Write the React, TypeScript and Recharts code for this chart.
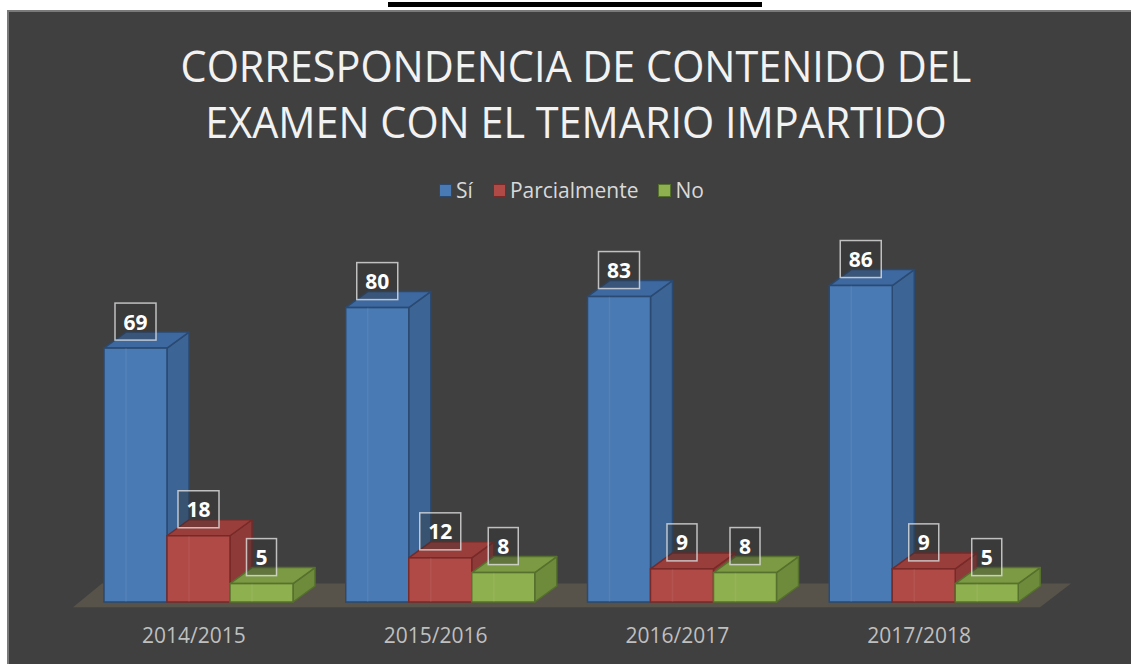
import React from "react";
import { BarChart, Bar, XAxis, YAxis, Legend, LabelList, ReferenceArea } from "recharts";

const years = ["2014/2015", "2015/2016", "2016/2017", "2017/2018"];
const siValues = [69, 80, 83, 86];
const parcialValues = [18, 12, 9, 9];
const noValues = [5, 8, 8, 5];

const data = years.map((year, i) => ({
  year,
  si: siValues[i],
  parcial: parcialValues[i],
  no: noValues[i],
}));

type Palette = { front: string; side: string; top: string; edge: string };

const series: { key: string; name: string; colors: Palette }[] = [
  { key: "si", name: "Sí", colors: { front: "#4a7ab4", side: "#3c6494", top: "#3e69a0", edge: "#2a4a72" } },
  { key: "parcial", name: "Parcialmente", colors: { front: "#b04a47", side: "#8e3a38", top: "#9a3e3b", edge: "#772a28" } },
  { key: "no", name: "No", colors: { front: "#8fb04f", side: "#6e8b3b", top: "#7c9a44", edge: "#56702d" } },
];

// fake 3d: depth offset and a small perspective shift of the front faces
const DX = 22;
const DY = -16;
const SHIFT = 5;

const makeBox = (c: Palette) => (props: any) => {
  const { height } = props;
  const x = props.x + SHIFT;
  const y = props.y;
  const w = props.width;
  if (!height || height <= 0) return null;
  const b = y + height;
  return (
    <g>
      <polygon
        points={`${x + w},${y} ${x + w + DX},${y + DY} ${x + w + DX},${b + DY} ${x + w},${b}`}
        fill={c.side}
        stroke={c.edge}
        strokeWidth={1.5}
        strokeLinejoin="round"
      />
      <polygon
        points={`${x},${y} ${x + DX},${y + DY} ${x + w + DX},${y + DY} ${x + w},${y}`}
        fill={c.top}
        stroke={c.edge}
        strokeWidth={1.5}
        strokeLinejoin="round"
      />
      <rect x={x} y={y} width={w} height={height} fill={c.front} stroke={c.edge} strokeWidth={1.5} />
      <line x1={x + DX} y1={y} x2={x + DX} y2={b} stroke="#ffffff" strokeOpacity={0.06} strokeWidth={1.5} />
    </g>
  );
};

const Floor = (props: any) => {
  const { x, y, width, height } = props;
  return (
    <polygon
      points={`${x},${y + height} ${x + width},${y + height} ${x + width + 31},${y} ${x + 29},${y}`}
      fill="#57534a"
    />
  );
};

const ValueBox = (props: any) => {
  const { x, y, width, value } = props;
  const txt = String(value);
  const bw = txt.length > 1 ? 41 : 30;
  const bh = 37;
  const cx = x + width / 2 + SHIFT;
  const bottom = y - 8;
  return (
    <g>
      <rect
        x={cx - bw / 2}
        y={bottom - bh}
        width={bw}
        height={bh}
        fill="rgba(50,50,50,0.35)"
        stroke="rgba(225,225,225,0.8)"
        strokeWidth={1.5}
      />
      <text
        x={cx}
        y={bottom - bh / 2}
        textAnchor="middle"
        dominantBaseline="central"
        fill="#ffffff"
        fontSize={21}
        fontWeight={700}
        fontFamily="'Open Sans', sans-serif"
      >
        {txt}
      </text>
    </g>
  );
};

const LegendContent = () => (
  <div style={{ display: "flex", justifyContent: "center", alignItems: "center", gap: 20 }}>
    {series.map((s) => (
      <div key={s.key} style={{ display: "flex", alignItems: "center", gap: 4 }}>
        <span
          style={{
            width: 11,
            height: 11,
            background: s.colors.front,
            border: `1.5px solid ${s.colors.edge}`,
            display: "inline-block",
          }}
        />
        <span style={{ color: "#d9d9d9", fontSize: 21, fontFamily: "'Open Sans', sans-serif" }}>{s.name}</span>
      </div>
    ))}
  </div>
);

export default function App() {
  return (
    <div
      style={{
        position: "absolute",
        left: 0,
        top: 0,
        width: 1131,
        height: 664,
        background: "#ffffff",
        overflow: "hidden",
        fontFamily: "'Open Sans', sans-serif",
      }}
    >
      <div style={{ position: "absolute", left: 388, top: 2, width: 374, height: 5, background: "#000" }} />
      <div
        style={{
          position: "absolute",
          left: 7,
          top: 10,
          right: 0,
          bottom: 0,
          background: "#404040",
          borderLeft: "2px solid #7a7a7a",
          borderTop: "2px solid #7a7a7a",
        }}
      />
      <div
        style={{
          position: "absolute",
          left: 0,
          top: 37,
          width: 1152,
          textAlign: "center",
          color: "#f2f2f2",
          fontSize: 44,
          lineHeight: "56px",
          transform: "scaleX(0.94)",
          transformOrigin: "576px 0",
        }}
      >
        CORRESPONDENCIA DE CONTENIDO DEL
        <br />
        EXAMEN CON EL TEMARIO IMPARTIDO
      </div>
      <div style={{ position: "absolute", left: 0, top: 0 }}>
        <BarChart
          width={1131}
          height={664}
          data={data}
          barGap={0}
          barSize={63}
          margin={{ top: 234, right: 91, bottom: 22, left: 73 }}
        >
          <XAxis
            dataKey="year"
            axisLine={false}
            tickLine={false}
            height={40}
            tickMargin={20}
            tick={{ fill: "#bfbfbf", fontSize: 21, fontFamily: "'Open Sans', sans-serif" }}
          />
          <YAxis hide domain={[0, 100]} />
          <ReferenceArea y1={-1.4} y2={5} ifOverflow="visible" shape={<Floor />} />
          <Legend
            verticalAlign="middle"
            align="center"
            content={<LegendContent />}
            wrapperStyle={{ top: 176, left: 6, width: 1131 }}
          />
          {series.map((s) => (
            <Bar
              key={s.key}
              dataKey={s.key}
              name={s.name}
              fill={s.colors.front}
              shape={makeBox(s.colors)}
              isAnimationActive={false}
            >
              <LabelList dataKey={s.key} content={<ValueBox />} />
            </Bar>
          ))}
        </BarChart>
      </div>
    </div>
  );
}
